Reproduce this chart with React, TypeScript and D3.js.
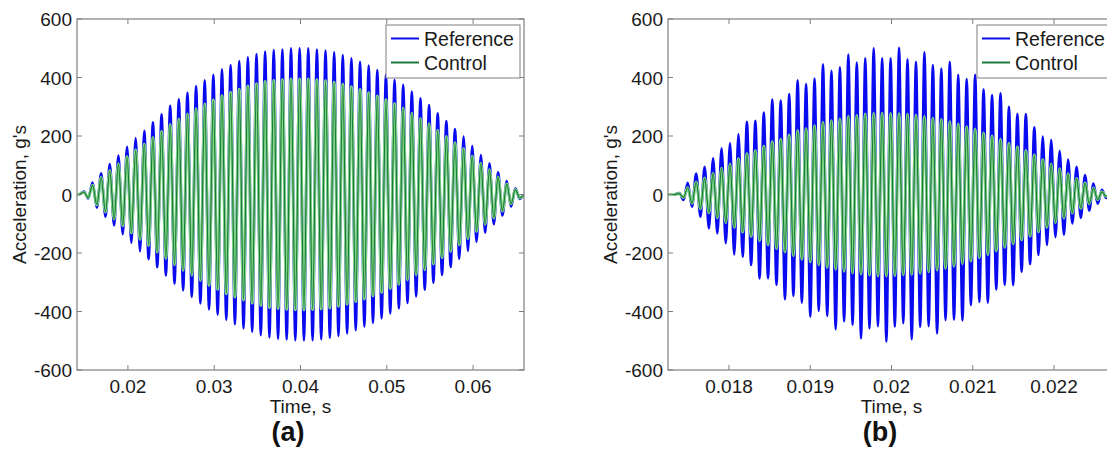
import React from "react";
import * as d3 from "d3";

// ---------- Data ----------
// Panel (a): 1 kHz burst, one positive peak per cycle, troughs mirror peaks
const refPeaksA = [10, 41, 73, 104, 133, 163, 192, 218, 247, 274, 303, 326, 348, 371, 391, 409, 428, 443, 456, 469, 480, 489, 494, 496, 500, 500, 500, 496, 492, 486, 477, 466, 454, 441, 426, 410, 392, 375, 352, 329, 306, 278, 251, 224, 198, 166, 135, 107, 76, 46, 21];
const refTroughsA = [-14, -45, -76, -106, -136, -165, -194, -221, -249, -277, -305, -328, -350, -373, -393, -411, -429, -444, -458, -470, -481, -489, -494, -496, -498, -499, -498, -495, -491, -484, -475, -464, -452, -439, -424, -407, -390, -371, -349, -326, -302, -275, -248, -220, -193, -162, -131, -102, -72, -42, -15];
const ctrlPeaksA = [8, 32, 58, 82, 105, 129, 152, 172, 195, 216, 239, 258, 275, 293, 309, 323, 338, 350, 360, 371, 379, 386, 390, 392, 395, 395, 395, 392, 389, 384, 377, 368, 359, 348, 337, 324, 310, 296, 278, 260, 242, 220, 198, 177, 156, 131, 107, 85, 60, 36, 17];
const ctrlTroughsA = [-11, -35, -60, -84, -107, -131, -153, -174, -197, -218, -240, -259, -276, -294, -310, -324, -339, -350, -361, -371, -379, -386, -390, -392, -394, -394, -393, -391, -388, -382, -375, -366, -357, -346, -334, -321, -307, -292, -275, -257, -238, -216, -194, -172, -150, -126, -102, -80, -56, -32, -12];
const startA = 0.0149; // first positive peak, s
const periodA = 0.001; // s

// Panel (b): ~9.6 kHz burst
const refPeaksB = [5, 40, 72, 95, 124, 158, 175, 206, 249, 252, 280, 325, 321, 344, 391, 378, 397, 445, 423, 435, 479, 451, 466, 500, 466, 466, 502, 462, 454, 486, 443, 431, 454, 409, 395, 409, 360, 340, 346, 300, 275, 275, 230, 198, 186, 150, 120, 95, 67, 38, 16];
const refTroughsB = [-19, -42, -76, -116, -133, -167, -205, -213, -241, -287, -287, -309, -358, -347, -370, -418, -398, -415, -461, -434, -446, -492, -458, -450, -503, -452, -440, -495, -453, -450, -475, -429, -428, -431, -378, -367, -370, -325, -309, -310, -264, -238, -207, -173, -146, -138, -99, -80, -55, -32, -12];
const ctrlPeaksB = [3, 23, 42, 56, 72, 90, 104, 122, 139, 150, 165, 180, 189, 203, 218, 225, 235, 246, 252, 258, 267, 270, 275, 277, 278, 277, 276, 274, 271, 267, 261, 256, 249, 241, 232, 223, 210, 200, 188, 174, 162, 150, 135, 119, 104, 88, 71, 55, 39, 22, 9];
const ctrlTroughsB = [-10, -30, -48, -62, -80, -96, -112, -128, -143, -157, -172, -185, -196, -209, -221, -230, -240, -249, -255, -262, -268, -272, -276, -278, -278, -277, -275, -273, -269, -264, -258, -252, -245, -236, -227, -216, -205, -193, -180, -168, -155, -142, -127, -112, -96, -80, -63, -47, -31, -17, -6];
const startB = 0.017388;
const periodB = 0.00010404;

const yTicks = [-600, -400, -200, 0, 200, 400, 600];
const xTicksA = [0.02, 0.03, 0.04, 0.05, 0.06];
const xTickLabelsA = ["0.02", "0.03", "0.04", "0.05", "0.06"];
const xTicksB = [0.018, 0.019, 0.02, 0.021, 0.022];
const xTickLabelsB = ["0.018", "0.019", "0.02", "0.021", "0.022"];
const seriesNames = ["Reference", "Control"];

// ---------- Layout ----------
const W = 1107;
const H = 453;
const FONT = "'Liberation Sans', Arial, Helvetica, sans-serif";
const AXIS_COLOR = "#7f7f7f";
const BLUE = "#0a0af0";
const GREEN_LIGHT = "#86d98a";
const GREEN_DARK = "#1a7a38";

type P = [number, number];

function buildWave(start: number, period: number, peaks: number[], troughs: number[], domain: number[]): P[] {
  const pts: P[] = [[domain[0], 0], [start - 0.6 * period, 0]];
  peaks.forEach((v, i) => {
    const t = start + i * period;
    pts.push([t, v]);
    pts.push([t + period / 2, troughs[i]]);
  });
  const last = start + (peaks.length - 1) * period + period / 2;
  pts.push([last + 0.6 * period, 0]);
  pts.push([domain[1], 0]);
  return pts;
}

type PanelProps = {
  id: string;
  left: number;
  right: number;
  domain: number[];
  xTicks: number[];
  xTickLabels: string[];
  ref: P[];
  ctrl: P[];
  legendX: number;
  tag: string;
  tagX: number;
};

function Panel(props: PanelProps) {
  const top = 19;
  const bottom = 370;
  const x = d3.scaleLinear().domain(props.domain).range([props.left, props.right]);
  const y = d3.scaleLinear().domain([-600, 600]).range([bottom, top]);
  const line = d3
    .line<P>()
    .x((d) => x(d[0]))
    .y((d) => y(d[1]))
    .curve(d3.curveMonotoneX);
  const clipId = "clip-" + props.id;
  const tickLen = 5;
  const cx = (props.left + props.right) / 2;
  const lx = props.legendX;
  return (
    <g>
      <defs>
        <clipPath id={clipId}>
          <rect x={props.left} y={top} width={props.right - props.left} height={bottom - top} />
        </clipPath>
      </defs>
      <g clipPath={`url(#${clipId})`}>
        <path d={line(props.ref) || ""} fill="none" stroke={BLUE} strokeWidth={2.5} strokeLinejoin="round" />
        <path d={line(props.ctrl) || ""} fill="none" stroke={GREEN_LIGHT} strokeWidth={3} strokeLinejoin="round" />
        <path d={line(props.ctrl) || ""} fill="none" stroke={GREEN_DARK} strokeWidth={1.2} strokeLinejoin="round" />
      </g>
      {/* box */}
      <rect x={props.left} y={top} width={props.right - props.left} height={bottom - top} fill="none" stroke={AXIS_COLOR} strokeWidth={1.2} />
      {/* x ticks */}
      {props.xTicks.map((t, i) => (
        <g key={"xt" + i}>
          <line x1={x(t)} x2={x(t)} y1={bottom} y2={bottom - tickLen} stroke={AXIS_COLOR} strokeWidth={1} />
          <line x1={x(t)} x2={x(t)} y1={top} y2={top + tickLen} stroke={AXIS_COLOR} strokeWidth={1} />
          <text x={x(t)} y={393} textAnchor="middle" fontFamily={FONT} fontSize={19} fill="#1a1a1a">
            {props.xTickLabels[i]}
          </text>
        </g>
      ))}
      {/* y ticks */}
      {yTicks.map((v) => (
        <g key={"yt" + v}>
          <line x1={props.left} x2={props.left + tickLen} y1={y(v)} y2={y(v)} stroke={AXIS_COLOR} strokeWidth={1} />
          <line x1={props.right} x2={props.right - tickLen} y1={y(v)} y2={y(v)} stroke={AXIS_COLOR} strokeWidth={1} />
          <text x={props.left - 5} y={y(v) + 7} textAnchor="end" fontFamily={FONT} fontSize={19} fill="#1a1a1a">
            {v}
          </text>
        </g>
      ))}
      {/* axis labels */}
      <text x={cx} y={413} textAnchor="middle" fontFamily={FONT} fontSize={19} fill="#1a1a1a">
        Time, s
      </text>
      <text
        transform={`translate(${props.left - 51},${(top + bottom) / 2}) rotate(-90)`}
        textAnchor="middle"
        fontFamily={FONT}
        fontSize={19}
        fill="#1a1a1a"
      >
        Acceleration, g's
      </text>
      <text x={props.tagX} y={441} textAnchor="middle" fontFamily={FONT} fontSize={27} fontWeight="bold" fill="#111">
        {props.tag}
      </text>
      {/* legend */}
      <rect x={lx} y={25} width={134} height={53} fill="#ffffff" stroke={AXIS_COLOR} strokeWidth={1} />
      <line x1={lx + 5} x2={lx + 33} y1={38.5} y2={38.5} stroke={BLUE} strokeWidth={2} />
      <line x1={lx + 5} x2={lx + 33} y1={62.5} y2={62.5} stroke={GREEN_DARK} strokeWidth={2} />
      <text x={lx + 38} y={45.5} fontFamily={FONT} fontSize={19.5} fill="#1a1a1a">
        {seriesNames[0]}
      </text>
      <text x={lx + 38} y={69.5} fontFamily={FONT} fontSize={19.5} fill="#1a1a1a">
        {seriesNames[1]}
      </text>
    </g>
  );
}

export default function App() {
  const domainA = [0.0141, 0.0659];
  const domainB = [0.017249, 0.022751];
  const refA = buildWave(startA, periodA, refPeaksA, refTroughsA, domainA);
  const ctrlA = buildWave(startA, periodA, ctrlPeaksA, ctrlTroughsA, domainA);
  const refB = buildWave(startB, periodB, refPeaksB, refTroughsB, domainB);
  const ctrlB = buildWave(startB, periodB, ctrlPeaksB, ctrlTroughsB, domainB);
  return (
    <svg
      width={W}
      height={H}
      viewBox={`0 0 ${W} ${H}`}
      style={{ position: "absolute", left: 0, top: 0, background: "#ffffff" }}
    >
      <rect x={0} y={0} width={W} height={H} fill="#ffffff" />
      <Panel
        id="a"
        left={77}
        right={524}
        domain={domainA}
        xTicks={xTicksA}
        xTickLabels={xTickLabelsA}
        ref={refA}
        ctrl={ctrlA}
        legendX={386}
        tag="(a)"
        tagX={288}
      />
      <Panel
        id="b"
        left={668}
        right={1115}
        domain={domainB}
        xTicks={xTicksB}
        xTickLabels={xTickLabelsB}
        ref={refB}
        ctrl={ctrlB}
        legendX={977}
        tag="(b)"
        tagX={880}
      />
    </svg>
  );
}
